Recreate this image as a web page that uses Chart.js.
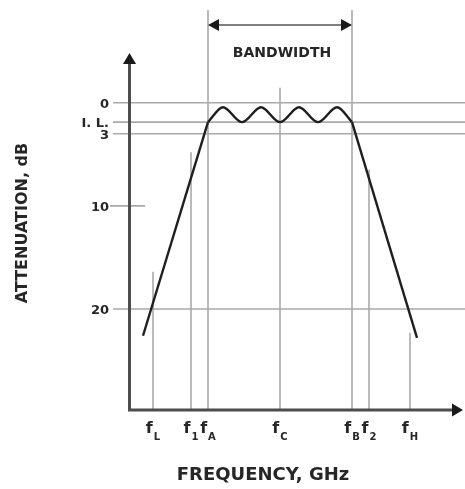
<!DOCTYPE html>
<html>
<head>
<meta charset="utf-8">
<script src="https://cdn.jsdelivr.net/npm/chart.js@4.4.1/dist/chart.umd.min.js"></script>
<style>
  html, body { margin: 0; padding: 0; background: #fff; }
</style>
</head>
<body>
<canvas id="filter" width="465" height="489"></canvas>
<script>
// frequency marks, arbitrary units with fC = 0
const freqNames = ['L', '1', 'A', 'C', 'B', '2', 'H'];
const freqMarks = [-127, -89, -72, 0, 72, 89, 130];
const guideTop  = [16.4, 4.8, -9, -1.45, -9, 6.5, 22.3]; // dB where each guide starts

// attenuation levels shown on the y axis
const ilLevel  = 1.88;
const dbTicks  = [0, ilLevel, 3, 10, 20];
const dbLabels = ['0', 'I. L.', '3', '10', '20'];

// response: straight skirts and a rippled passband
const lowFreq  = [-137, -72];
const lowDb    = [22.6, ilLevel];
const highFreq = [72, 137];
const highDb   = [ilLevel, 22.8];
const passFreq = [-72, -57, -38, -19, 0, 19, 38, 57, 72];
const passDb   = [ilLevel, 0.43, ilLevel, 0.43, ilLevel, 0.43, ilLevel, 0.43, ilLevel];

const FONT = '"DejaVu Sans", sans-serif';
const toPts = (xs, ys) => xs.map((x, i) => ({ x: x, y: ys[i] }));

const curve = {
  borderColor: '#1f1f1f',
  borderWidth: 2.4,
  pointRadius: 0,
  fill: false
};

const decor = {
  id: 'decor',
  beforeDatasetsDraw(chart) {
    const { ctx, chartArea: a, scales: { x, y } } = chart;
    ctx.save();
    ctx.lineWidth = 1.6;
    ctx.strokeStyle = '#a9a9a9';

    // level lines (10 dB only gets a short dash)
    dbTicks.forEach(v => {
      const py = y.getPixelForValue(v);
      ctx.beginPath();
      if (v === 10) {
        ctx.moveTo(a.left - 20, py);
        ctx.lineTo(a.left + 15, py);
      } else {
        ctx.moveTo(a.left - 17, py);
        ctx.lineTo(a.right, py);
      }
      ctx.stroke();
    });

    // frequency guides
    freqMarks.forEach((f, i) => {
      const px = x.getPixelForValue(f);
      ctx.beginPath();
      ctx.moveTo(px, y.getPixelForValue(guideTop[i]));
      ctx.lineTo(px, a.bottom);
      ctx.stroke();
    });

    // bandwidth arrow
    const by = y.getPixelForValue(-7.55);
    const ax = x.getPixelForValue(freqMarks[2]);
    const bx = x.getPixelForValue(freqMarks[4]);
    ctx.strokeStyle = '#555';
    ctx.lineWidth = 1.6;
    ctx.beginPath();
    ctx.moveTo(ax + 8, by);
    ctx.lineTo(bx - 8, by);
    ctx.stroke();
    ctx.fillStyle = '#1a1a1a';
    ctx.beginPath();
    ctx.moveTo(ax, by); ctx.lineTo(ax + 11, by - 6); ctx.lineTo(ax + 11, by + 6);
    ctx.closePath(); ctx.fill();
    ctx.beginPath();
    ctx.moveTo(bx, by); ctx.lineTo(bx - 11, by - 6); ctx.lineTo(bx - 11, by + 6);
    ctx.closePath(); ctx.fill();

    // axes with arrowheads
    const ox = a.left - 0.5, oy = a.bottom;
    const tipY = y.getPixelForValue(-4.83);
    const tipX = x.getPixelForValue(183);
    ctx.strokeStyle = '#4d4d4d';
    ctx.lineWidth = 3;
    ctx.beginPath();
    ctx.moveTo(ox, oy + 1.5);
    ctx.lineTo(ox, tipY + 8);
    ctx.moveTo(ox - 1.5, oy);
    ctx.lineTo(tipX - 8, oy);
    ctx.stroke();
    ctx.fillStyle = '#1a1a1a';
    ctx.beginPath();
    ctx.moveTo(ox, tipY); ctx.lineTo(ox - 6.5, tipY + 11); ctx.lineTo(ox + 6.5, tipY + 11);
    ctx.closePath(); ctx.fill();
    ctx.beginPath();
    ctx.moveTo(tipX, oy); ctx.lineTo(tipX - 11, oy - 6.5); ctx.lineTo(tipX - 11, oy + 6.5);
    ctx.closePath(); ctx.fill();
    ctx.restore();
  },
  afterDraw(chart) {
    const { ctx, chartArea: a, scales: { x, y } } = chart;
    ctx.save();
    ctx.fillStyle = '#262626';

    // y tick labels
    ctx.font = 'bold 13px ' + FONT;
    ctx.textAlign = 'right';
    ctx.textBaseline = 'middle';
    dbTicks.forEach((v, i) => {
      ctx.fillText(dbLabels[i], a.left - 21, y.getPixelForValue(v) + 1.5);
    });

    // x tick labels: f with subscript
    ctx.textAlign = 'left';
    ctx.textBaseline = 'alphabetic';
    freqMarks.forEach((f, i) => {
      ctx.font = 'bold 16px ' + FONT;
      const wf = ctx.measureText('f').width;
      ctx.font = 'bold 10px ' + FONT;
      const ws = ctx.measureText(freqNames[i]).width;
      const x0 = x.getPixelForValue(f) - (wf + ws + 1) / 2;
      ctx.font = 'bold 16px ' + FONT;
      ctx.fillText('f', x0, a.bottom + 23);
      ctx.font = 'bold 10px ' + FONT;
      ctx.fillText(freqNames[i], x0 + wf + 1, a.bottom + 30);
    });

    // bandwidth caption
    ctx.textAlign = 'center';
    ctx.textBaseline = 'middle';
    ctx.font = 'bold 14px ' + FONT;
    ctx.fillText('BANDWIDTH', x.getPixelForValue(2), y.getPixelForValue(-4.83));

    // axis titles
    ctx.font = 'bold 18px ' + FONT;
    ctx.fillText('FREQUENCY, GHz', 263, 475);
    ctx.translate(23, 223);
    ctx.rotate(-Math.PI / 2);
    ctx.font = 'bold 16px ' + FONT;
    ctx.fillText('ATTENUATION, dB', 0, 0);
    ctx.restore();
  }
};

new Chart(document.getElementById('filter'), {
  type: 'line',
  data: {
    datasets: [
      Object.assign({ data: toPts(lowFreq, lowDb), tension: 0 }, curve),
      Object.assign({ data: toPts(highFreq, highDb), tension: 0 }, curve),
      Object.assign({ data: toPts(passFreq, passDb), cubicInterpolationMode: 'monotone' }, curve)
    ]
  },
  options: {
    responsive: false,
    animation: false,
    devicePixelRatio: 1,
    layout: { padding: { left: 130, right: 0, top: 10, bottom: 79 } },
    plugins: { legend: { display: false }, tooltip: { enabled: false } },
    scales: {
      x: { type: 'linear', display: false, min: -150, max: 185 },
      y: { type: 'linear', display: false, reverse: true, min: -9, max: 29.8 }
    }
  },
  plugins: [decor]
});
</script>
</body>
</html>
